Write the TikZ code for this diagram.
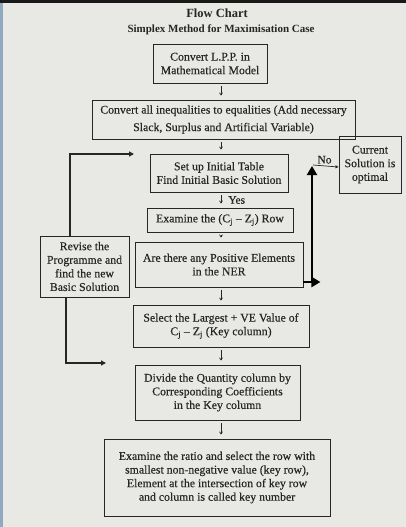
\documentclass[tikz,border=0pt]{standalone}
\usepackage{fontspec}
\setmainfont{Liberation Serif}[FakeBold=0.35]
\newfontfamily\headfont{Liberation Serif}
\usetikzlibrary{arrows.meta}

\definecolor{paper}{HTML}{E8E8E4}
\definecolor{ink}{HTML}{262626}
\definecolor{edgeblue}{HTML}{8FA9C0}

\tikzset{
  box/.style={draw=ink, line width=0.9pt, text=ink, align=center,
              inner sep=0pt, font=\fontsize{11.8}{13.6}\selectfont},
  dn/.style={draw=ink, line width=0.7pt, -{Straight Barb[length=2.2pt,width=3pt]},
             shorten <=3pt, shorten >=4pt},
  loop/.style={draw=ink, line width=1.6pt, -{Triangle[length=5pt,width=5pt]}},
  heavy/.style={draw=black, line width=2.8pt, -{Triangle[length=9pt,width=10pt]}},
  thin/.style={draw=ink, line width=0.7pt, -{Triangle[length=3pt,width=3pt]}},
  lbl/.style={text=ink, inner sep=0pt, font=\fontsize{11.5}{13}\selectfont},
}

\begin{document}
\begin{tikzpicture}[x=1pt,y=-1pt]
  % page
  \fill[paper] (0,0) rectangle (406,527);
  \fill[black!90] (0,0) rectangle (406,3);
  \fill[edgeblue] (0,3) rectangle (3,527);
  \useasboundingbox (0,0) rectangle (406,527);

  % headings
  \node[text=ink, font=\headfont\bfseries\fontsize{12.5}{14}\selectfont] (title) at (217,13) {Flow Chart};
  \node[text=ink, font=\headfont\bfseries\fontsize{11}{12}\selectfont] (subtitle) at (221,30)
       {Simplex Method for Maximisation Case};

  % main column
  \node[box, minimum width=114pt, minimum height=39pt] (b1) at (210,63.5)
       {Convert L.P.P. in\\Mathematical Model};
  \node[box, minimum width=263pt, minimum height=39pt,
        font=\fontsize{11.8}{17.5}\selectfont] (b2) at (223.5,119.5)
       {Convert all inequalities to equalities (Add necessary\\Slack, Surplus and Artificial Variable)};
  \node[box, minimum width=138pt, minimum height=38pt] (b3) at (219,173)
       {Set up Initial Table\\Find Initial Basic Solution};
  \node[box, minimum width=146pt, minimum height=24pt] (b4) at (220,220)
       {Examine the (C\textsubscript{j} -- Z\textsubscript{j}) Row};
  \node[box, minimum width=168pt, minimum height=45pt] (b5) at (219,264.5)
       {Are there any Positive Elements\\in the NER};
  \node[box, minimum width=176pt, minimum height=42pt] (b6) at (221,326)
       {Select the Largest + VE Value of\\C\textsubscript{j} -- Z\textsubscript{j} (Key column)};
  \node[box, minimum width=165pt, minimum height=55pt] (b7) at (217.5,392.5)
       {Divide the Quantity column by\\Corresponding Coefficients\\in the Key column};
  \node[box, minimum width=226pt, minimum height=77pt] (b8) at (217,477.5)
       {Examine the ratio and select the row with\\smallest non-negative value (key row),\\Element at the intersection of key row\\and column is called key number};

  % side boxes
  \node[box, minimum width=89pt, minimum height=61pt] (revise) at (84.5,266.5)
       {Revise the\\Programme and\\find the new\\Basic Solution};
  \node[box, minimum width=62pt, minimum height=57pt] (cur) at (370,164.5)
       {Current\\Solution is\\optimal};

  % short downward arrows
  \coordinate (spine) at (221,0);
  \draw[dn] (b1.south -| spine) -- (b2.north -| spine);
  \draw[dn] (b2.south -| spine) -- (b3.north -| spine);
  \draw[dn] (b3.south -| spine) -- (b4.north -| spine)
        node[lbl, midway, right=7pt] (yes) {Yes};
  \draw[dn] (b4.south -| spine) -- (b5.north -| spine);
  \draw[dn] (b5.south -| spine) -- (b6.north -| spine);
  \draw[dn] (b6.south -| spine) -- (b7.north -| spine);
  \draw[dn] (b7.south -| spine) -- (b8.north -| spine);

  % loop back through the revision step
  \coordinate (loopin) at (134,154);
  \coordinate (loopout) at (106,363);
  \draw[loop] (revise.north -| 70,0) |- (loopin);
  \draw[loop] (revise.south -| 66,0) |- (loopout);

  % optimality branch
  \coordinate (turn) at (312,282);
  \coordinate (nojoint) at (312,166);
  \draw[heavy] (b5.east |- turn) -- ++(17,0);
  \draw[heavy] ([yshift=1.4pt]turn) -- (nojoint);
  \draw[thin] ([xshift=1pt,yshift=1pt]nojoint) -- (cur.west |- 0,167)
        node[lbl, pos=0.45, above=2pt] (no) {No};
\end{tikzpicture}
\end{document}
